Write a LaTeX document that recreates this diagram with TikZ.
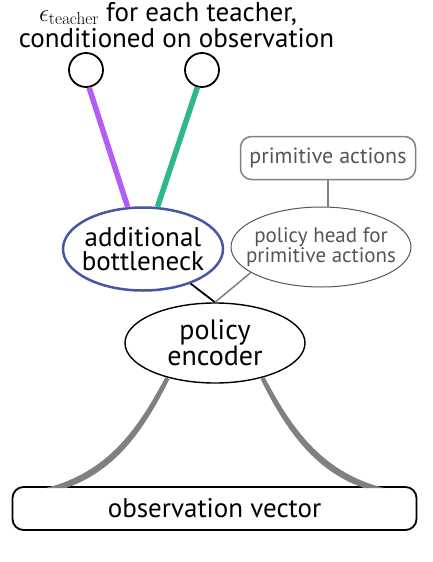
\documentclass[tikz,border=0pt]{standalone}
\usepackage[no-math]{fontspec}
\setmainfont{PT Sans}
\usetikzlibrary{shapes.geometric}
\definecolor{tpurple}{HTML}{B45CF7}
\definecolor{tgreen}{HTML}{2DB98A}
\definecolor{bnblue}{HTML}{4656A6}
\definecolor{cgray}{HTML}{808080}
\definecolor{tgray}{HTML}{555555}
\begin{document}
\begin{tikzpicture}[x=1pt,y=-1pt,
  teach/.style={circle,draw=black,line width=1.8pt,minimum size=34pt,inner sep=0pt},
  ell/.style={ellipse,inner ysep=0pt,inner xsep=-25pt,align=center,font=\fontsize{27}{24.5}\selectfont},
  grayell/.style={ellipse,inner ysep=0pt,inner xsep=-25pt,align=center,draw=tgray,line width=1pt,text=tgray,font=\fontsize{21}{20}\selectfont},
  rbox/.style={rounded corners=11pt,inner sep=0pt},
  ttl/.style={inner sep=0pt,font=\fontsize{27}{27}\selectfont}]
\useasboundingbox (0,0) rectangle (432,562);
\node[ttl,anchor=base] (title1) at (168,21) {$\epsilon_{\mathrm{teacher}}$ for each teacher,};
\node[ttl,anchor=base] (title2) at (176.5,47) {conditioned on observation};
\node[teach] (t1) at (86,70) {};
\node[teach] (t2) at (202,70) {};
\node[ell,draw=bnblue,line width=2.5pt,minimum width=160pt,minimum height=83pt] (bn) at (143,249) {additional\\bottleneck};
\node[grayell,minimum width=180pt,minimum height=80pt] (ph) at (321,247) {policy head for\\primitive actions};
\node[rbox,draw=cgray,line width=1.5pt,text=tgray,minimum width=175pt,minimum height=43pt,font=\fontsize{22}{22}\selectfont] (pa) at (328,158) {primitive actions};
\node[ell,draw=black,line width=1.4pt,minimum width=180pt,minimum height=80pt,font=\fontsize{28}{24}\selectfont] (enc) at (215,343) {policy\\encoder};
\node[rbox,draw=black,line width=1.8pt,minimum width=404pt,minimum height=43pt,font=\fontsize{27}{27}\selectfont] (obs) at (214.5,508.5) {observation vector};
% connectors
\draw[tpurple,line width=5.5pt] (t1.-80) -- (bn.110);
\draw[tgreen,line width=5.5pt] (t2.-105) -- (bn.71);
\draw[cgray,line width=1.5pt] (pa.south) -- (pa.south |- ph.north);
\draw[black,line width=1.8pt] (bn.-36) -- (enc.north);
\draw[cgray,line width=1.5pt] (ph.200) -- (enc.north);
% tapered encoder-observation curves
\fill[cgray] (165.5,377) .. controls (140,425) and (110,472) .. (46,488)
  -- (66,488) .. controls (118,470) and (146,426) .. (169.5,379) -- cycle;
\fill[cgray] (264.5,377) .. controls (290,425) and (320,472) .. (384,488)
  -- (364,488) .. controls (312,470) and (284,426) .. (260.5,379) -- cycle;
\end{tikzpicture}
\end{document}
